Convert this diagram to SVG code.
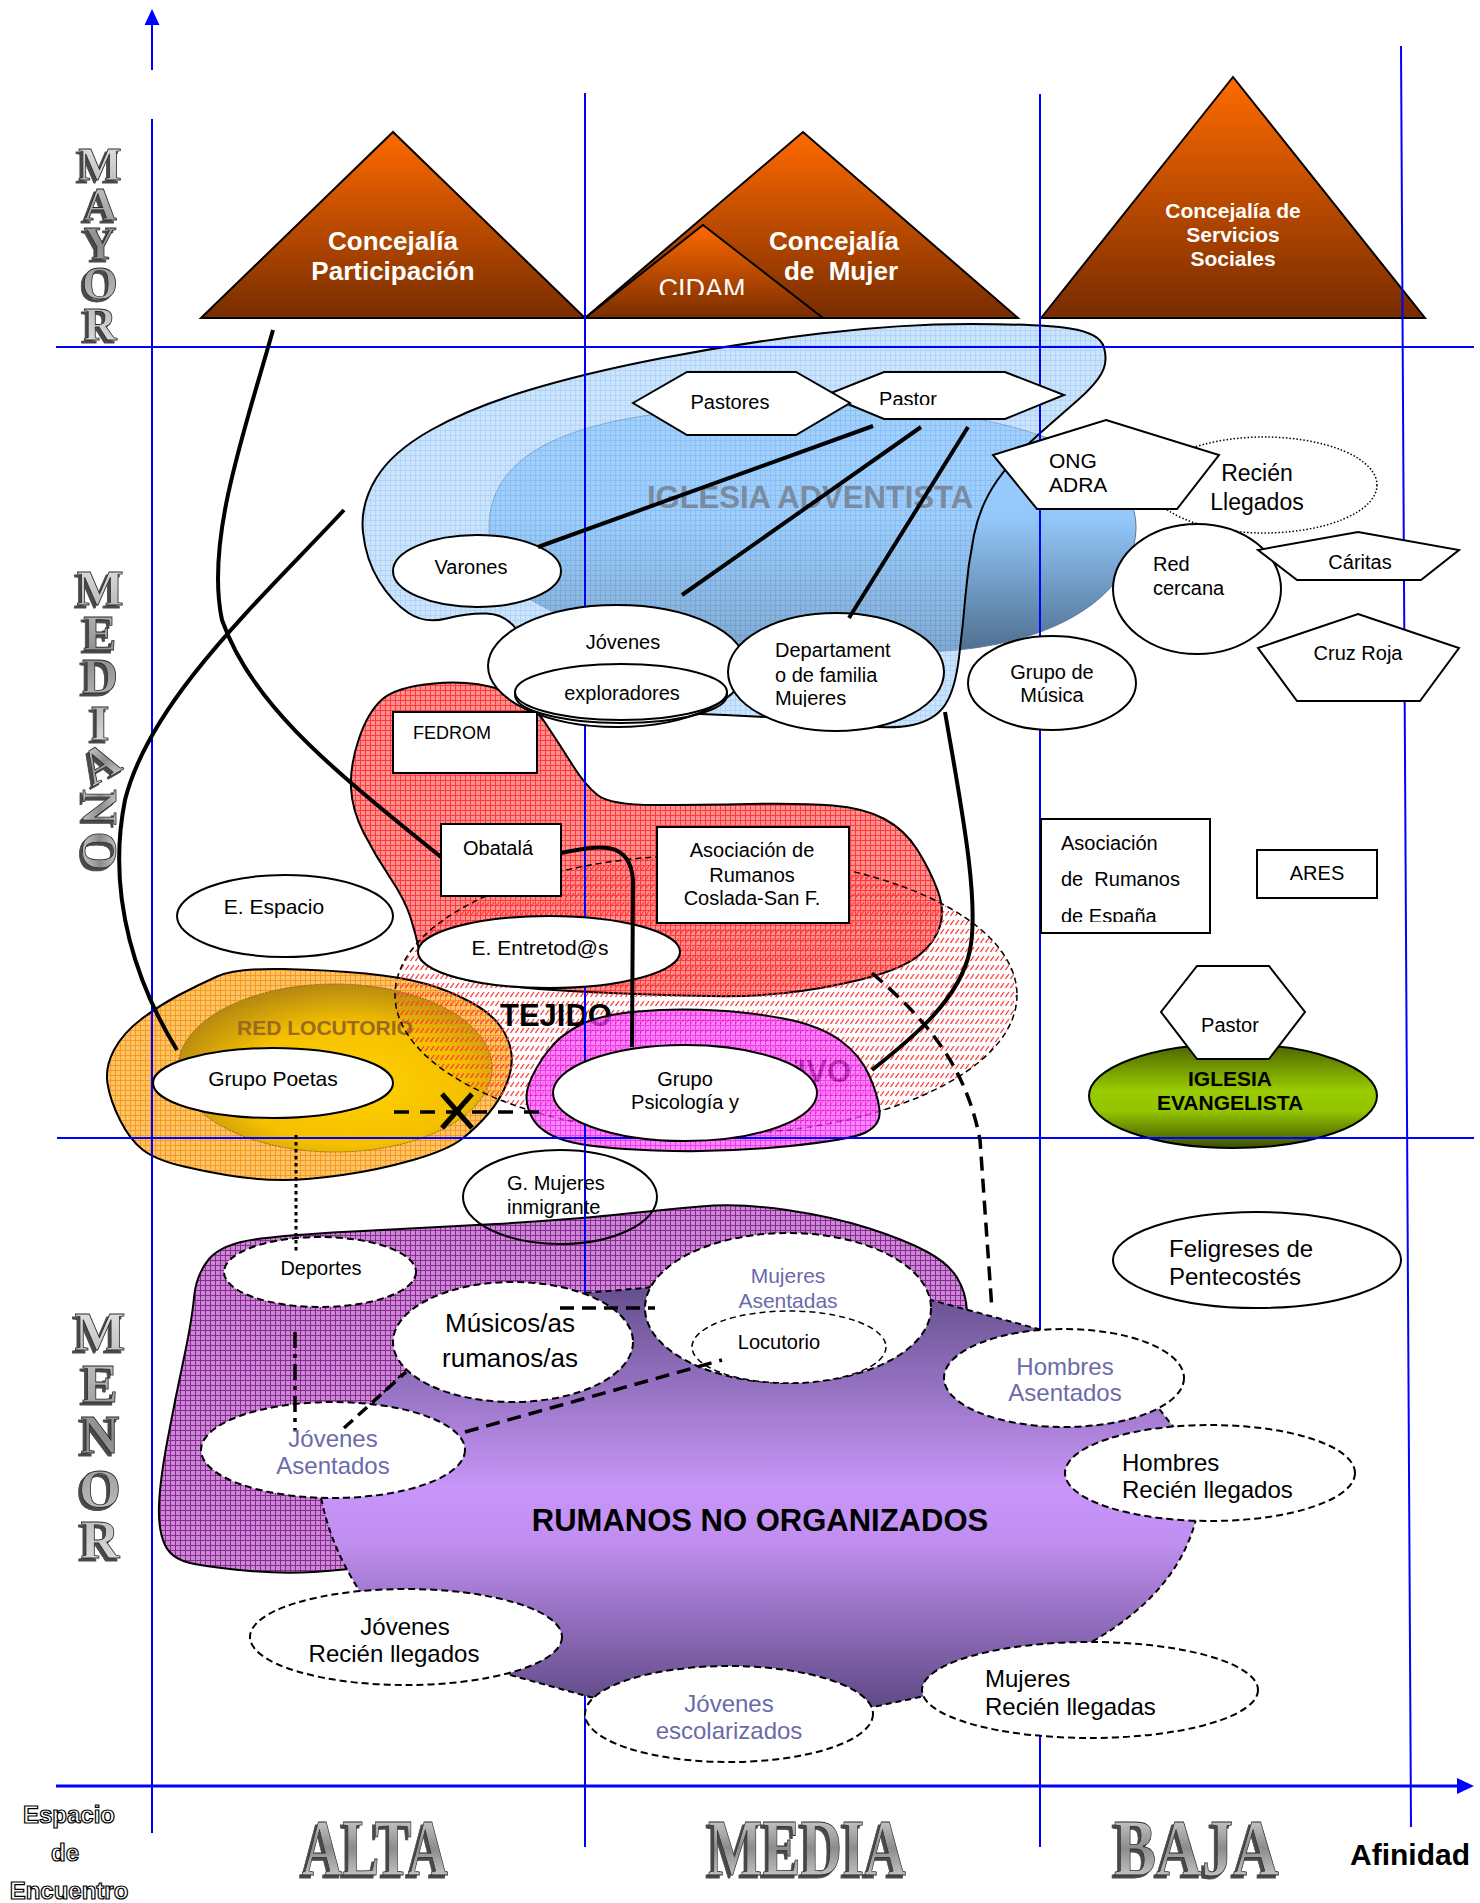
<svg xmlns="http://www.w3.org/2000/svg" width="1480" height="1903" viewBox="0 0 1480 1903" font-size="20">
<style>
text{font-family:"Liberation Sans",Arial,sans-serif;fill:#000}
.c{text-anchor:middle}
.b{font-weight:bold}
.tri{stroke:#000;stroke-width:2;fill:url(#gTri)}
.tw{fill:#fff;font-weight:bold;text-anchor:middle}
.n{fill:#fff;stroke:#000;stroke-width:2}
.nd{fill:#fff;stroke:#000;stroke-width:2;stroke-dasharray:7 4}
.blob{stroke:#000;stroke-width:2}
.grid{stroke:#0000ff;stroke-width:2;fill:none}
.cn{fill:none;stroke:#000;stroke-width:4}
.cd{fill:none;stroke:#000;stroke-width:3.5;stroke-dasharray:14 8}
.sl{fill:#6a6aaa}
.l3{font-family:"Liberation Serif","Times New Roman",serif;font-weight:bold;text-anchor:middle}
.mt{fill:url(#gMetal);stroke:#2a2a2a;stroke-width:0.8}
</style>
<defs>
<filter id="ext" x="-20%" y="-20%" width="140%" height="140%"><feOffset in="SourceAlpha" dx="-3" dy="3" result="o"/><feFlood flood-color="#4a4a4a"/><feComposite in2="o" operator="in" result="s"/><feMerge><feMergeNode in="s"/><feMergeNode in="SourceGraphic"/></feMerge></filter>
<linearGradient id="gTri" x1="0" y1="0" x2="0" y2="1"><stop offset="0" stop-color="#ff6a00"/><stop offset="1" stop-color="#782c00"/></linearGradient>
<linearGradient id="gIgl" x1="0" y1="0" x2="0" y2="1"><stop offset="0" stop-color="#9fd0ff"/><stop offset="0.45" stop-color="#94c8fb"/><stop offset="1" stop-color="#4e6e8e"/></linearGradient>
<linearGradient id="gRum" gradientUnits="userSpaceOnUse" x1="0" y1="1262" x2="0" y2="1715"><stop offset="0" stop-color="#584680"/><stop offset="0.5" stop-color="#c896f8"/><stop offset="0.62" stop-color="#c08ef0"/><stop offset="1" stop-color="#5a4680"/></linearGradient>
<radialGradient id="gGold" cx="0.55" cy="0.6" r="0.6"><stop offset="0" stop-color="#ffd200"/><stop offset="0.6" stop-color="#f5c000"/><stop offset="1" stop-color="#b88a10"/></radialGradient>
<linearGradient id="gEva" x1="0" y1="0" x2="0" y2="1"><stop offset="0" stop-color="#4a6200"/><stop offset="0.45" stop-color="#99cc00"/><stop offset="0.65" stop-color="#92c400"/><stop offset="1" stop-color="#3a4e00"/></linearGradient>
<linearGradient id="gMetal" x1="0" y1="0" x2="0" y2="1"><stop offset="0" stop-color="#e4e4e4"/><stop offset="0.5" stop-color="#8c8c8c"/><stop offset="1" stop-color="#e0e0e0"/></linearGradient>
<pattern id="pBlue" width="5" height="5" patternUnits="userSpaceOnUse"><rect width="5" height="5" fill="#a6d2fb"/><path d="M0 .5H5M.5 0V5" stroke="#80b8f0" stroke-width="1"/></pattern>
<pattern id="pRed" width="5" height="5" patternUnits="userSpaceOnUse"><rect width="5" height="5" fill="#ff9090"/><path d="M0 .5H5M.5 0V5" stroke="#ff3a3a" stroke-width="1"/></pattern>
<pattern id="pOrg" width="5" height="5" patternUnits="userSpaceOnUse"><rect width="5" height="5" fill="#ffc468"/><path d="M0 .5H5M.5 0V5" stroke="#f59a1e" stroke-width="1"/></pattern>
<pattern id="pPur" width="5" height="5" patternUnits="userSpaceOnUse"><rect width="5" height="5" fill="#c88ad2"/><path d="M0 .5H5M.5 0V5" stroke="#8e2796" stroke-width="1"/></pattern>
<pattern id="pMag" width="5" height="5" patternUnits="userSpaceOnUse"><rect width="5" height="5" fill="#ff5cff"/><path d="M0 .5H5M.5 0V5" stroke="#e000e0" stroke-width="1"/></pattern>
<pattern id="pHatch" width="5" height="9" patternUnits="userSpaceOnUse"><path d="M0.5 7L4 2" stroke="#ff3a3a" stroke-width="1.3"/></pattern>
<clipPath id="clipCidam"><rect x="600" y="260" width="200" height="35"/></clipPath>
<clipPath id="clipPastor"><rect x="850" y="380" width="120" height="25"/></clipPath>
<clipPath id="clipDept"><rect x="760" y="630" width="180" height="77"/></clipPath>
<clipPath id="clipEsp"><rect x="1045" y="825" width="160" height="97"/></clipPath>
<clipPath id="clipAsoc"><path d="M795,1040H900V1100H795Z"/></clipPath>
</defs>
<rect width="1480" height="1903" fill="#fff"/>

<!-- axis labels 3D -->
<g id="label-mayor" font-size="46" filter="url(#ext)">
 <text class="l3 mt" x="100 100 100 100 100" y="180 220 259 299 340">MAYOR</text>
</g>
<g id="label-mediano" font-size="50" filter="url(#ext)">
 <text class="l3 mt" x="100 100 100 100" y="605 650 693 740">MEDI</text>
 <text transform="translate(100 763) rotate(-30)" y="17" class="l3 mt">A</text><text transform="translate(100 807) rotate(90)" y="17" class="l3 mt">N</text><text transform="translate(100 851) rotate(90)" y="17" class="l3 mt">O</text>
</g>
<g id="label-menor" font-size="54" filter="url(#ext)">
 <text class="l3 mt" x="100 100 100 100 100" y="1350 1402 1453 1507 1558">MENOR</text>
</g>
<g id="label-afinidad" font-size="80">
 <g filter="url(#ext)"><text x="302" y="1875" textLength="146" lengthAdjust="spacingAndGlyphs" class="l3 mt" style="text-anchor:start">ALTA</text><text x="708" y="1875" textLength="198" lengthAdjust="spacingAndGlyphs" class="l3 mt" style="text-anchor:start">MEDIA</text><text x="1114" y="1875" textLength="165" lengthAdjust="spacingAndGlyphs" class="l3 mt" style="text-anchor:start">BAJA</text></g>
 <text x="1350" y="1865" class="b" font-size="30">Afinidad</text>
</g>
<g id="label-espacio" font-size="24">
 <text x="69" y="1823" class="c b" style="fill:#fff;stroke:#000;stroke-width:1.2">Espacio</text>
 <text x="65" y="1861" class="c b" style="fill:#fff;stroke:#000;stroke-width:1.2">de</text>
 <text x="69" y="1899" class="c b" style="fill:#fff;stroke:#000;stroke-width:1.2">Encuentro</text>
</g>

<!-- triangles -->
<g id="concejalia-participacion" font-size="26"><polygon class="tri" points="201,318 393,132 585,318"/><text x="393" y="250" class="tw">Concejalía</text><text x="393" y="280" class="tw">Participación</text></g>
<g id="concejalia-mujer" font-size="26"><polygon class="tri" points="585,318 803,132 1018,318"/><text x="834" y="250" class="tw">Concejalía</text><text x="841" y="280" class="tw" xml:space="preserve">de  Mujer</text></g>
<g id="cidam"><polygon class="tri" points="585,318 703,225 823,318"/><text x="702" y="298" clip-path="url(#clipCidam)" font-size="27" class="c" style="fill:#fff">CIDAM</text></g>
<g id="concejalia-servicios" font-size="21"><polygon class="tri" points="1041,318 1233,77 1425,318"/><text x="1233" y="218" class="tw">Concejalía de</text><text x="1233" y="242" class="tw">Servicios</text><text x="1233" y="266" class="tw">Sociales</text></g>

<!-- blobs -->
<g id="iglesia-adventista">
<path d="M489,528 C489,440 600,405 810,406 C1000,404 1136,450 1136,527 C1136,590 1060,650 920,652 C760,655 600,640 540,605 C500,585 489,555 489,528 Z" fill="url(#gIgl)" stroke="#5a7a9a" stroke-width="1"/>
<path class="blob" fill="url(#pBlue)" fill-opacity="0.6" d="M1101.5,373.5 Q1108,362 1104,347.5 Q1100,333 1070,328.5 Q1040,324 970,324 Q900,324 820,333.5 Q740,343 662.5,358 Q585,373 527.5,390.5 Q470,408 431,430 Q392,452 376,478.5 Q360,505 363,532.5 Q366,560 379,581 Q392,602 408.5,613 Q425,624 446.5,618.5 Q468,613 486.5,613.5 Q505,614 516.5,629.5 Q528,645 536.5,675 Q545,705 597.5,708.5 Q650,712 725,715 Q800,718 845,724 Q890,730 912.5,725 Q935,720 945,705 Q955,690 959,657.5 Q963,625 965.5,595 Q968,565 974,535 Q980,505 997.5,480 Q1015,455 1038.5,434.5 Q1062,414 1078.5,399.5 Q1095,385 1101.5,373.5 Z"/>
<text x="810" y="508" class="c b" font-size="31" style="fill:#7a8ba0">IGLESIA ADVENTISTA</text>
</g>
<g id="fedrom-area">
<path class="blob" fill="url(#pRed)" d="M382,699.5 Q396,687 434,683.5 Q472,680 501,690 Q530,700 545,722.5 Q560,745 572.5,765 Q585,785 597.5,795 Q610,805 655,805 Q700,805 750.5,804 Q801,803 832.5,805.5 Q864,808 884.5,819 Q905,830 917.5,850 Q930,870 937.5,890 Q945,910 940,926 Q935,942 920,954.5 Q905,967 874,976 Q843,985 801.5,991 Q760,997 710,996 Q660,995 600,992.5 Q540,990 500,985 Q460,980 441,972.5 Q422,965 419,950 Q416,935 410.5,917.5 Q405,900 390,877.5 Q375,855 363.5,832.5 Q352,810 351,787.5 Q350,765 359,738.5 Q368,712 382,699.5 Z"/>
</g>
<g id="red-locutorio">
<path class="blob" fill="url(#pOrg)" d="M217,976.5 Q236,968 283,969 Q330,970 365.5,973.5 Q401,977 424.5,983.5 Q448,990 469.5,1001.5 Q491,1013 500.5,1026.5 Q510,1040 511.5,1054 Q513,1068 506.5,1084 Q500,1100 488.5,1113.5 Q477,1127 462.5,1138.5 Q448,1150 413,1160 Q378,1170 342.5,1175 Q307,1180 283.5,1180 Q260,1180 236,1176.5 Q212,1173 184,1166.5 Q156,1160 143,1150 Q130,1140 120,1120 Q110,1100 107.5,1083.5 Q105,1067 114,1050 Q123,1033 141.5,1019 Q160,1005 179,995 Q198,985 217,976.5 Z"/>
<ellipse cx="335" cy="1068" rx="157" ry="84" fill="url(#gGold)" stroke="#8a6a20" stroke-width="1" stroke-dasharray="2 1"/>
<text x="325" y="1035" class="c b" font-size="21" style="fill:#9a6a20">RED LOCUTORIO</text>
</g>
<g id="tejido-asociativo">
<ellipse cx="706" cy="995" rx="311" ry="140" fill="url(#pHatch)" stroke="#000" stroke-width="1.5" stroke-dasharray="6 4"/>
<text x="500" y="1026" class="b" font-size="31">TEJIDO</text>
<text x="851" y="1082" class="b" font-size="31" style="text-anchor:end" clip-path="url(#clipAsoc)">ASOCIATIVO</text>
</g>
<g id="magenta-ring">
<path class="blob" fill="url(#pMag)" fill-opacity="0.75" d="M531.5,1116.5 Q523,1100 529,1084 Q535,1068 547.5,1051.5 Q560,1035 580,1025 Q600,1015 637.5,1011.5 Q675,1008 717,1010.5 Q759,1013 790.5,1020 Q822,1027 841,1041 Q860,1055 869,1075 Q878,1095 879.5,1110 Q881,1125 865.5,1132.5 Q850,1140 785,1146.5 Q720,1153 655,1150.5 Q590,1148 565,1140.5 Q540,1133 531.5,1116.5 Z"/>
</g>
<g id="rumanos-checkered">
<path class="blob" fill="url(#pPur)" d="M209,1259 Q222,1243 261,1238.5 Q300,1234 362.5,1231 Q425,1228 495.5,1224 Q566,1220 613.5,1215 Q661,1210 700.5,1206.5 Q740,1203 787,1210 Q834,1217 869.5,1228.5 Q905,1240 926.5,1251.5 Q948,1263 957,1277.5 Q966,1292 967,1311 Q968,1330 934,1375 Q900,1420 660,1490 Q420,1560 382.5,1565 Q345,1570 314,1572 Q283,1574 250,1571 Q217,1568 194.5,1564 Q172,1560 165,1545 Q158,1530 159,1505 Q160,1480 167.5,1440 Q175,1400 183.5,1360 Q192,1320 194,1297.5 Q196,1275 209,1259 Z"/>
</g>
<g id="iglesia-evangelista">
<ellipse cx="1233" cy="1096" rx="144" ry="52" fill="url(#gEva)" stroke="#000" stroke-width="2"/>
<polygon class="n" points="1197,966 1269,966 1305,1012 1269,1059 1197,1059 1161,1012"/>
<text x="1230" y="1032" class="c">Pastor</text>
<text x="1230" y="1085.5" class="c b" font-size="21">IGLESIA</text>
<text x="1230" y="1109.5" class="c b" font-size="21">EVANGELISTA</text>
</g>

<!-- grid / axes -->
<g id="axes">
<path class="grid" d="M152,70V24M152,119V1833M585,93V1847M1040,94V1847M1401,46L1411,1827M56,347H1474M57,1138H1474"/>
<polygon points="152,9 144.5,25 159.5,25" fill="#0000ff"/>
<path d="M56,1786H1460" stroke="#0000ff" stroke-width="3"/>
<polygon points="1474,1786 1457,1778 1457,1794" fill="#0000ff"/>
</g>

<g id="rumanos-no-organizados">
<path fill="url(#gRum)" stroke="#000" stroke-width="2" stroke-dasharray="6 4" d="M406,1370 L470,1320 L584,1293 L645,1288 L780,1262 L931,1300 L1042,1330 L1120,1375 L1160,1410 L1176,1430 L1200,1480 L1197,1515 Q1180,1590 1095,1640 L1000,1690 L920,1697 L873,1707 L730,1715 L590,1697 L510,1675 L400,1640 L359,1590 Q330,1545 321,1497 L373,1403 Z"/>
<text x="760" y="1531" class="c b" font-size="31">RUMANOS NO ORGANIZADOS</text>
</g>

<!-- nodes -->
<g id="pastor-adv"><polygon class="n" points="884,372 1005,372 1064,395 1005,419 884,419 826,395"/><text x="908" y="406" class="c" clip-path="url(#clipPastor)">Pastor</text></g>
<g id="pastores"><polygon class="n" points="633,403 687,372 796,372 850,403 796,435 687,435"/><text x="730" y="409" class="c">Pastores</text></g>
<g id="varones"><ellipse class="n" cx="477" cy="571" rx="84" ry="36"/><text x="471" y="574" class="c">Varones</text></g>
<g id="jovenes"><ellipse class="n" cx="617" cy="666" rx="129" ry="61"/><text x="623" y="649" class="c">Jóvenes</text></g>
<g id="exploradores"><ellipse cx="621" cy="695" rx="106" ry="28" fill="none" stroke="#000" stroke-width="2"/><ellipse class="n" cx="621" cy="692" rx="106" ry="28"/><text x="622" y="700" class="c">exploradores</text></g>
<g id="departamento"><ellipse class="n" cx="836" cy="672" rx="108" ry="59"/><g clip-path="url(#clipDept)"><text x="775" y="657">Departament</text><text x="775" y="682">o de familia</text><text x="775" y="705">Mujeres</text></g></g>
<g id="grupo-musica"><ellipse class="n" cx="1052" cy="683" rx="84" ry="47"/><text x="1052" y="679" class="c">Grupo de</text><text x="1052" y="702" class="c">Música</text></g>
<g id="recien-llegados"><ellipse cx="1264" cy="485" rx="113" ry="48" fill="#fff" stroke="#000" stroke-width="1.5" stroke-dasharray="1.5 2"/><text x="1257" y="481" class="c" font-size="23">Recién</text><text x="1257" y="510" class="c" font-size="23">Llegados</text></g>
<g id="ong-adra"><polygon class="n" points="1106,420 1219,455 1177,509 1037,509 993,455"/><text x="1049" y="467.5" font-size="21">ONG</text><text x="1049" y="491.5" font-size="21">ADRA</text></g>
<g id="red-cercana"><ellipse class="n" cx="1197" cy="589" rx="84" ry="65"/><text x="1153" y="571">Red</text><text x="1153" y="595">cercana</text></g>
<g id="caritas"><polygon class="n" points="1358,532 1459,550 1421,580 1297,580 1258,550"/><text x="1360" y="569" class="c">Cáritas</text></g>
<g id="cruz-roja"><polygon class="n" points="1358,614 1459,648 1420,701 1297,701 1258,648"/><text x="1358" y="660" class="c">Cruz Roja</text></g>
<g id="fedrom"><rect class="n" x="393" y="712" width="144" height="61"/><text x="413" y="738.5" font-size="18">FEDROM</text></g>
<g id="obatala"><rect class="n" x="441" y="824" width="120" height="72"/><text x="498" y="855" class="c">Obatalá</text></g>
<g id="asoc-coslada"><rect class="n" x="657" y="827" width="192" height="96"/><text x="752" y="857" class="c">Asociación de</text><text x="752" y="882" class="c">Rumanos</text><text x="752" y="905" class="c">Coslada-San F.</text></g>
<g id="asoc-espana"><rect class="n" x="1041" y="819" width="169" height="114"/><g clip-path="url(#clipEsp)"><text x="1061" y="849.5">Asociación</text><text x="1061" y="886" xml:space="preserve">de  Rumanos</text><text x="1061" y="922.5">de España</text></g></g>
<g id="ares"><rect class="n" x="1257" y="850" width="120" height="48"/><text x="1317" y="880" class="c">ARES</text></g>
<g id="e-espacio"><ellipse class="n" cx="285" cy="916" rx="108" ry="41"/><text x="274" y="913.5" class="c" font-size="21">E. Espacio</text></g>
<g id="e-entretodos"><ellipse class="n" cx="549" cy="952" rx="131" ry="36"/><text x="540" y="954.5" class="c" font-size="21">E. Entretod@s</text></g>
<g id="grupo-poetas"><ellipse class="n" cx="273" cy="1083" rx="120" ry="35"/><text x="273" y="1085.5" class="c" font-size="21">Grupo Poetas</text></g>
<g id="grupo-psicologia"><ellipse class="n" cx="685" cy="1093" rx="132" ry="48"/><text x="685" y="1086" class="c">Grupo</text><text x="685" y="1109" class="c">Psicología y</text></g>
<g id="g-mujeres"><ellipse cx="560" cy="1197" rx="97" ry="47" fill="none" stroke="#000" stroke-width="2"/><text x="507" y="1190">G. Mujeres</text><text x="507" y="1214">inmigrante</text></g>
<g id="feligreses" font-size="24"><ellipse class="n" cx="1257" cy="1260" rx="144" ry="48"/><text x="1169" y="1256.6">Feligreses de</text><text x="1169" y="1284.6">Pentecostés</text></g>
<g id="deportes"><ellipse class="nd" cx="320" cy="1272" rx="96" ry="35"/><text x="321" y="1275" class="c">Deportes</text></g>
<g id="musicos" font-size="26"><ellipse class="nd" cx="513" cy="1342" rx="120" ry="60"/><text x="510" y="1332" class="c">Músicos/as</text><text x="510" y="1367" class="c">rumanos/as</text></g>
<g id="mujeres-asentadas" font-size="21"><ellipse class="nd" cx="788" cy="1308" rx="143" ry="75"/><text x="788" y="1282.5" class="c sl">Mujeres</text><text x="788" y="1307.5" class="c sl">Asentadas</text></g>
<g id="locutorio"><ellipse cx="789" cy="1347" rx="97" ry="36" fill="#fff" stroke="#000" stroke-width="1.5" stroke-dasharray="6 4"/><text x="779" y="1349" class="c">Locutorio</text></g>
<g id="jovenes-asentados" font-size="24"><ellipse class="nd" cx="333" cy="1450" rx="132" ry="48"/><text x="333" y="1446.6" class="c sl">Jóvenes</text><text x="333" y="1473.6" class="c sl">Asentados</text></g>
<g id="hombres-asentados" font-size="24"><ellipse class="nd" cx="1064" cy="1378" rx="120" ry="49"/><text x="1065" y="1374.6" class="c sl">Hombres</text><text x="1065" y="1400.6" class="c sl">Asentados</text></g>
<g id="hombres-recien" font-size="24"><ellipse class="nd" cx="1210" cy="1473" rx="145" ry="48"/><text x="1122" y="1470.6">Hombres</text><text x="1122" y="1497.6">Recién llegados</text></g>
<g id="jovenes-recien" font-size="24"><ellipse class="nd" cx="406" cy="1637" rx="156" ry="48"/><text x="405" y="1635" class="c">Jóvenes</text><text x="394" y="1662" class="c">Recién llegados</text></g>
<g id="jovenes-escolarizados" font-size="24"><ellipse class="nd" cx="729" cy="1714" rx="144" ry="48"/><text x="729" y="1711.6" class="c sl">Jóvenes</text><text x="729" y="1738.6" class="c sl">escolarizados</text></g>
<g id="mujeres-recien" font-size="24"><ellipse class="nd" cx="1090" cy="1690" rx="168" ry="48"/><text x="985" y="1687">Mujeres</text><text x="985" y="1715">Recién llegadas</text></g>

<!-- connectors -->
<g id="connectors">
<path class="cn" d="M873,426L538,547M921,427L682,595M968,427L849,618"/>
<path class="cn" stroke-width="5" d="M273,330 C245,430 205,540 222,620 C250,700 320,760 441,857"/>
<path class="cn" stroke-width="3.5" d="M344,510 C260,600 150,700 125,800 C105,900 140,990 177,1050"/>
<path class="cn" d="M561,853 C600,845 630,840 633,880 L632,1047"/>
<path class="cn" stroke-width="3.5" d="M945,712 C960,800 980,900 970,950 C960,1000 910,1040 872,1070"/>
<path class="cd" d="M872,973 C920,1015 965,1060 980,1140 L992,1310"/>
<path class="cd" style="stroke-dasharray:15 11" d="M394,1112H548"/>
<path fill="none" stroke="#000" stroke-width="5" d="M442,1094L472,1128M472,1094L442,1128"/>
<path fill="none" stroke="#000" stroke-width="3" stroke-dasharray="3.5 3.5" d="M296,1135V1253"/>
<path fill="none" stroke="#000" stroke-width="3.5" stroke-dasharray="16 6 4 6" d="M295,1332V1430"/>
<path class="cd" style="stroke-dasharray:12 7" d="M344,1428L406,1372"/>
<path class="cd" d="M465,1432L722,1360"/>
<path class="cd" d="M560,1308H655"/>
</g>
</svg>
